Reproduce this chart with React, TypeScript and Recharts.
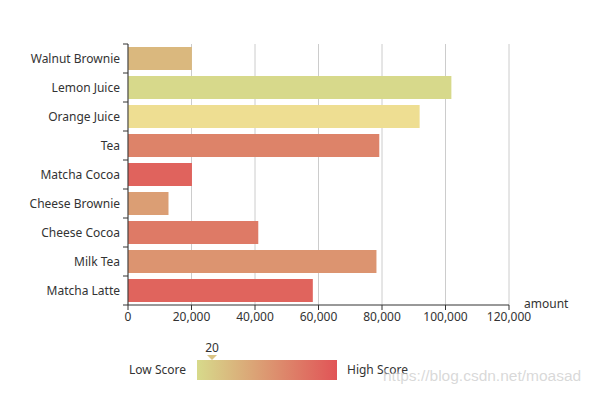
import { BarChart, Bar, XAxis, YAxis, CartesianGrid, Cell } from "recharts";

const products = ["Matcha Latte", "Milk Tea", "Cheese Cocoa", "Cheese Brownie", "Matcha Cocoa", "Tea", "Orange Juice", "Lemon Juice", "Walnut Brownie"];
const amounts = [58212, 78254, 41032, 12755, 20145, 79146, 91852, 101852, 20112];
const scores = [89.3, 57.1, 74.4, 50.1, 89.7, 68.1, 19.6, 10.6, 32.7];
const amountTicks = [0, 20000, 40000, 60000, 80000, 100000, 120000];
const hovered = "Orange Juice";

const data = products.map((product, i) => ({ product, amount: amounts[i], score: scores[i] }));

const FONT = "'Noto Sans', sans-serif";
const LOW = [215, 218, 139];
const HIGH = [225, 84, 87];

function scoreColor(score: number) {
  const t = Math.max(0, Math.min(1, (score - 10) / 90));
  const c = LOW.map((v, i) => Math.round(v + (HIGH[i] - v) * t));
  return `rgb(${c[0]}, ${c[1]}, ${c[2]})`;
}

const TOP = 44;
const AXIS_Y = 305;
const BAND = (AXIS_Y - TOP) / products.length;

function CategoryTick(props: any) {
  const { x, y, payload, index } = props;
  return (
    <g>
      <line x1={x + 3} x2={x + 8} y1={y - BAND / 2} y2={y - BAND / 2} stroke="#333" />
      {index === 0 && <line x1={x + 3} x2={x + 8} y1={y + BAND / 2} y2={y + BAND / 2} stroke="#333" />}
      <text x={x} y={y} dy="0.35em" textAnchor="end" fill="#333" fontSize={12} fontFamily={FONT}>
        {payload.value}
      </text>
    </g>
  );
}

export default function App() {
  return (
    <div style={{ position: "absolute", left: 0, top: 0, width: 592, height: 397, background: "#fff", fontFamily: FONT }}>
      <BarChart
        width={592}
        height={397}
        data={data}
        layout="vertical"
        barCategoryGap="10%"
        margin={{ top: TOP, right: 83, bottom: 62, left: 0 }}
      >
        <CartesianGrid horizontal={false} stroke="#ccc" />
        <XAxis
          type="number"
          dataKey="amount"
          domain={[0, 120000]}
          ticks={amountTicks}
          interval={0}
          height={30}
          tickSize={5}
          tickMargin={2}
          stroke="#333"
          tick={{ fill: "#333", fontSize: 12, fontFamily: FONT }}
          tickFormatter={(v: number) => v.toLocaleString("en-US")}
        />
        <YAxis
          type="category"
          dataKey="product"
          reversed
          width={128}
          interval={0}
          tickSize={5}
          tickMargin={3}
          stroke="#333"
          tickLine={{ stroke: "none" }}
          tick={<CategoryTick />}
        />
        <Bar dataKey="amount" isAnimationActive={false}>
          {data.map((d) => (
            <Cell key={d.product} fill={d.product === hovered ? "#EEDE92" : scoreColor(d.score)} />
          ))}
        </Bar>
      </BarChart>

      <div style={{ position: "absolute", left: 524, top: 295, fontSize: 12, color: "#333" }}>amount</div>

      <div style={{ position: "absolute", left: 100, top: 361, width: 86, textAlign: "right", fontSize: 12, color: "#333" }}>Low Score</div>
      <div
        style={{
          position: "absolute",
          left: 197,
          top: 360,
          width: 140,
          height: 20,
          background: "linear-gradient(to right, #D7DA8B, #E15457)",
        }}
      />
      <div style={{ position: "absolute", left: 347, top: 361, fontSize: 12, color: "#333" }}>High Score</div>
      <div style={{ position: "absolute", left: 200, top: 339, width: 24, textAlign: "center", fontSize: 12, color: "#333" }}>20</div>
      <div
        style={{
          position: "absolute",
          left: 207,
          top: 355,
          width: 0,
          height: 0,
          borderLeft: "5px solid transparent",
          borderRight: "5px solid transparent",
          borderTop: "5px solid #D9C385",
        }}
      />

      <div style={{ position: "absolute", left: 383, top: 367, fontSize: 15.5, lineHeight: "18px", color: "rgba(200,200,200,0.7)", fontFamily: "Arial, 'Liberation Sans', sans-serif" }}>
        https://blog.csdn.net/moasad
      </div>
    </div>
  );
}
